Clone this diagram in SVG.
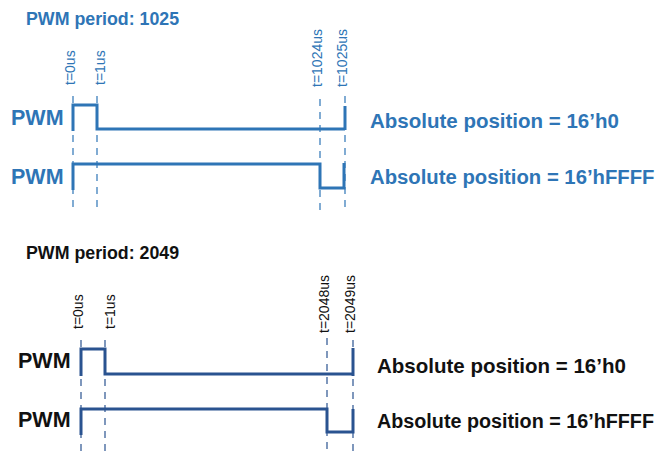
<svg xmlns="http://www.w3.org/2000/svg" width="657" height="452" viewBox="0 0 657 452">
<style>
.t{font-family:"Liberation Sans",Arial,sans-serif;font-weight:bold}
.tl{font-family:"Liberation Sans",Arial,sans-serif;font-size:14px}
.blue{fill:#2E75B6}
.dark{fill:#111111}
.dashB{stroke:#2E75B6;stroke-width:1.2;stroke-dasharray:7 6;fill:none}
.dashD{stroke:#2A5390;stroke-width:1.2;stroke-dasharray:7 6;fill:none}
.waveB{stroke:#2E75B6;stroke-width:3;fill:none;stroke-linejoin:miter}
.waveD{stroke:#2A5390;stroke-width:3;fill:none;stroke-linejoin:miter}
</style>
<rect width="657" height="452" fill="#ffffff"/>

<g id="top">
  <text class="t blue" x="26" y="25" font-size="17.8">PWM period: 1025</text>
  <g id="top-labels" class="tl blue">
    <text transform="translate(74.5,85) rotate(-90)">t=0us</text>
    <text transform="translate(105,85) rotate(-90)">t=1us</text>
    <text transform="translate(322,87) rotate(-90)">t=1024us</text>
    <text transform="translate(347,87) rotate(-90)">t=1025us</text>
  </g>
  <g id="top-dashes">
    <line class="dashB" x1="73" y1="96" x2="73" y2="212"/>
    <line class="dashB" x1="97" y1="96" x2="97" y2="212"/>
    <line class="dashB" x1="320" y1="99" x2="320" y2="213"/>
    <line class="dashB" x1="345" y1="96" x2="345" y2="212"/>
  </g>
  <g id="top-pwm1">
    <text class="t blue" x="11" y="125" font-size="21.5">PWM</text>
    <path class="waveB" d="M73,131 V105 H97 V129 H345"/>
    <path class="waveB" d="M345,106 V130"/>
    <text class="t blue" x="370" y="128" font-size="20.5">Absolute position = 16’h0</text>
  </g>
  <g id="top-pwm2">
    <text class="t blue" x="11" y="184" font-size="21.5">PWM</text>
    <path class="waveB" d="M73,190 V164 H320 V188 H344 V163"/>
    <text class="t blue" x="370" y="184" font-size="20.3">Absolute position = 16’hFFFF</text>
  </g>
</g>

<g id="bottom">
  <text class="t dark" x="26" y="259" font-size="17.8">PWM period: 2049</text>
  <g id="bottom-labels" class="tl dark">
    <text transform="translate(82.5,329) rotate(-90)">t=0us</text>
    <text transform="translate(115,329) rotate(-90)">t=1us</text>
    <text transform="translate(329,333) rotate(-90)">t=2048us</text>
    <text transform="translate(355,333) rotate(-90)">t=2049us</text>
  </g>
  <g id="bottom-dashes">
    <line class="dashD" x1="81" y1="340" x2="81" y2="452"/>
    <line class="dashD" x1="105" y1="340" x2="105" y2="452"/>
    <line class="dashD" x1="327" y1="338" x2="327" y2="452"/>
    <line class="dashD" x1="353" y1="340" x2="353" y2="452"/>
  </g>
  <g id="bottom-pwm1">
    <text class="t dark" x="18" y="368" font-size="21.5">PWM</text>
    <path class="waveD" d="M81,376 V349 H105 V374 H353"/>
    <path class="waveD" d="M353,348 V376"/>
    <text class="t dark" x="377" y="373" font-size="20.5">Absolute position = 16’h0</text>
  </g>
  <g id="bottom-pwm2">
    <text class="t dark" x="18" y="427" font-size="21.5">PWM</text>
    <path class="waveD" d="M81,435 V409 H327 V432 H353 V409"/>
    <text class="t dark" x="377" y="428" font-size="20" textLength="277" lengthAdjust="spacingAndGlyphs">Absolute position = 16’hFFFF</text>
  </g>
</g>
</svg>
